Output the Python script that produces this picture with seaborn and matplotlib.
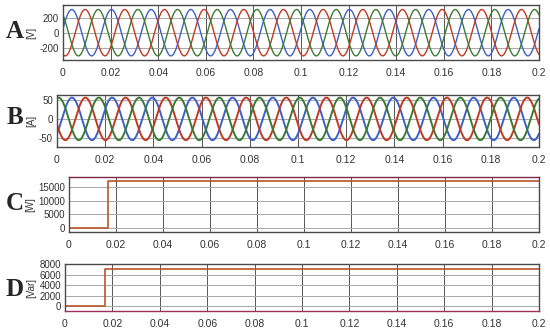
import numpy as np
import pandas as pd
import seaborn as sns
import matplotlib.pyplot as plt

# time axis
t_end = 0.2
freq_hz = 60  # 12 cycles over 0.2 s

# panel A: phase voltages [V]
v_amp = 310
v_peak_times = {"blue": 0.0037, "red": 0.0093, "green": 0.0148}

# panel B: phase currents [A]
i_amp = 56
i_peak_times = {"blue": 0.0062, "red": 0.0118, "green": 0.0007}

# panel C: active power [W]
p_time = [0, 0.0167, 0.0167, 0.2]
p_vals = [0, 0, 17200, 17200]

# panel D: reactive power [Var]
q_time = [0, 0.0167, 0.0167, 0.2]
q_vals = [0, 0, 7100, 7100]

x_ticks = [0, 0.02, 0.04, 0.06, 0.08, 0.1, 0.12, 0.14, 0.16, 0.18, 0.2]
x_labels = ["0", "0.02", "0.04", "0.06", "0.08", "0.1", "0.12", "0.14", "0.16", "0.18", "0.2"]

colors = {"blue": "#3f5fc8", "red": "#c03a22", "green": "#3c7a34"}
step_color = "#b8552c"

sns.set_style("white")
plt.rcParams["font.family"] = ["Liberation Sans", "DejaVu Sans"]

fig = plt.figure(figsize=(5.5, 3.34), dpi=100)
W, H = 550, 334


def make_ax(left, top, right, bottom):
    return fig.add_axes([left / W, 1 - bottom / H, (right - left) / W, (bottom - top) / H])


def style(ax, ylim, yticks, ylabel):
    ax.set_xlim(0, t_end)
    ax.set_ylim(*ylim)
    ax.set_xticks(x_ticks)
    ax.set_xticklabels(x_labels)
    ax.set_yticks(yticks)
    ax.set_yticklabels([str(v) for v in yticks])
    ax.xaxis.grid(True, color="#555555", lw=0.7)
    ax.yaxis.grid(True, color="#a8a8a8", lw=0.7)
    ax.set_axisbelow(True)
    ax.tick_params(axis="x", length=0, labelsize=7.5, colors="#333333", pad=6)
    ax.tick_params(axis="y", length=0, labelsize=7, colors="#333333", pad=3)
    ax.set_ylabel(ylabel, fontsize=7, color="#333333", labelpad=2)
    ax.set_xlabel("")
    for s in ax.spines.values():
        s.set_color("#4a4a4a")
        s.set_linewidth(1.0)
    if ax.get_legend():
        ax.get_legend().remove()


t = np.linspace(0, t_end, 4000)

# A
axA = make_ax(63, 5, 539, 60)
for name, tp in v_peak_times.items():
    sns.lineplot(x=t, y=v_amp * np.cos(2 * np.pi * freq_hz * (t - tp)), ax=axA,
                 color=colors[name], lw=1.0)
style(axA, (-365, 370), [-200, 0, 200], "[V]")

# B
axB = make_ax(57, 95, 539, 147)
for name, tp in i_peak_times.items():
    sns.lineplot(x=t, y=i_amp * np.cos(2 * np.pi * freq_hz * (t - tp)), ax=axB,
                 color=colors[name], lw=1.4)
style(axB, (-74, 63), [-50, 0, 50], "[A]")

# C
axC = make_ax(69, 177, 539, 232)
dfp = pd.DataFrame({"t": p_time, "P": p_vals})
sns.lineplot(data=dfp, x="t", y="P", ax=axC, color=step_color, lw=1.2, estimator=None, sort=False)
style(axC, (-1500, 18700), [0, 5000, 10000, 15000], "[W]")
axC.spines["top"].set_color("#7a2a45")

# D
axD = make_ax(65, 264, 539, 311)
dfq = pd.DataFrame({"t": q_time, "Q": q_vals})
sns.lineplot(data=dfq, x="t", y="Q", ax=axD, color=step_color, lw=1.2, estimator=None, sort=False)
style(axD, (-850, 8000), [0, 2000, 4000, 6000, 8000], "[Var]")
axD.spines["bottom"].set_color("#a0305a")

# panel letters
for letter, y in [("A", 32), ("B", 117), ("C", 204), ("D", 289)]:
    fig.text(15 / W, 1 - y / H, letter, fontsize=18, fontweight="bold",
             family="Liberation Serif", ha="center", va="center")

fig.savefig("out.png", dpi=100)
